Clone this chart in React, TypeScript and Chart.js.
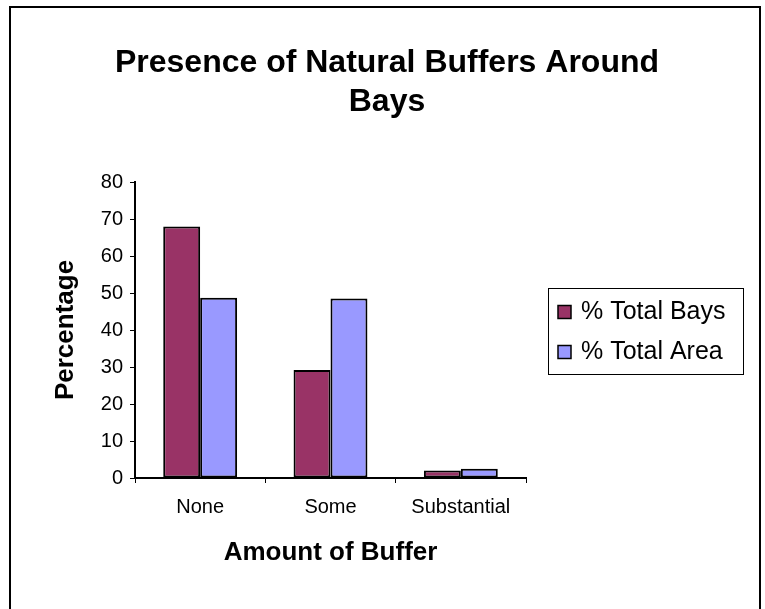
import React, { useEffect, useRef } from "react";
import { Chart, registerables } from "chart.js";

Chart.register(...registerables);

const categories = ["None", "Some", "Substantial"];
const totalBays = [68, 29.2, 2.0];
const totalArea = [48.7, 48.5, 2.5];
const seriesNames = ["% Total Bays", "% Total Area"];
const seriesColors = ["#993366", "#9999FF"];
const titleLines = ["Presence of Natural Buffers Around", "Bays"];
const xAxisTitle = "Amount of Buffer";
const yAxisTitle = "Percentage";
const yMin = 0;
const yMax = 80;
const yStep = 10;

const FONT = "'Liberation Sans', Arial, Helvetica, sans-serif";

const decorPlugin = {
  id: "decor",
  beforeDraw(chart: any) {
    const ctx = chart.ctx;
    ctx.save();
    ctx.fillStyle = "#ffffff";
    ctx.fillRect(0, 0, chart.width, chart.height);
    ctx.restore();
  },
  afterDraw(chart: any) {
    const ctx = chart.ctx;
    ctx.save();
    // outer frame
    ctx.strokeStyle = "#000";
    ctx.lineWidth = 2;
    ctx.strokeRect(10, 7, 750, 700);

    // title
    ctx.fillStyle = "#000";
    ctx.font = `bold 32px ${FONT}`;
    ctx.textAlign = "center";
    ctx.textBaseline = "alphabetic";
    ctx.fillText(titleLines[0], 387, 72);
    ctx.fillText(titleLines[1], 387, 111);

    // legend
    ctx.lineWidth = 1;
    ctx.strokeRect(548.5, 288.5, 195, 86);
    ctx.font = `25px ${FONT}`;
    ctx.textAlign = "left";
    const ds = chart.data.datasets;
    ds.forEach((d: any, i: number) => {
      const cy = 312 + i * 40;
      ctx.fillStyle = d.backgroundColor;
      ctx.fillRect(558, cy - 6.5, 13, 13);
      ctx.strokeStyle = "#000";
      ctx.lineWidth = 1.5;
      ctx.strokeRect(558, cy - 6.5, 13, 13);
      ctx.fillStyle = "#000";
      ctx.textBaseline = "alphabetic";
      ctx.fillText(d.label, 581, cy + 7);
    });
    ctx.restore();
  },
};

export default function App() {
  const ref = useRef<HTMLCanvasElement | null>(null);
  useEffect(() => {
    if (!ref.current) return;
    const chart = new Chart(ref.current, {
      type: "bar",
      data: {
        labels: categories,
        datasets: [
          {
            label: seriesNames[0],
            data: totalBays,
            backgroundColor: seriesColors[0],
            borderColor: "#000",
            borderWidth: 2,
            borderSkipped: false,
            barPercentage: 1,
            categoryPercentage: 0.567,
          },
          {
            label: seriesNames[1],
            data: totalArea,
            backgroundColor: seriesColors[1],
            borderColor: "#000",
            borderWidth: 2,
            borderSkipped: false,
            barPercentage: 1,
            categoryPercentage: 0.567,
          },
        ],
      },
      options: {
        responsive: false,
        animation: false,
        devicePixelRatio: 1,
        layout: { padding: { left: 0, top: 182, right: 239, bottom: 0 } },
        plugins: {
          legend: { display: false },
          title: { display: false },
          tooltip: { enabled: false },
        },
        scales: {
          x: {
            grid: {
              offset: true,
              drawOnChartArea: false,
              color: "#000",
              tickLength: 5,
              lineWidth: 1,
            },
            border: { color: "#000", width: 2 },
            ticks: { color: "#000", font: { family: FONT, size: 20 }, padding: 12 },
            title: {
              display: true,
              text: xAxisTitle,
              color: "#000",
              font: { family: FONT, size: 26, weight: "bold", lineHeight: 1 },
              padding: { top: 0, bottom: 43 },
            },
            afterFit: (s: any) => {
              s.height = 131;
            },
          },
          y: {
            min: yMin,
            max: yMax,
            ticks: {
              stepSize: yStep,
              color: "#000",
              font: { family: FONT, size: 20 },
              padding: 7,
            },
            grid: {
              drawOnChartArea: false,
              color: "#000",
              tickLength: 5,
              lineWidth: 1,
            },
            border: { color: "#000", width: 2 },
            title: {
              display: true,
              text: yAxisTitle,
              color: "#000",
              font: { family: FONT, size: 26, weight: "bold", lineHeight: 1 },
              padding: { top: 53, bottom: 0 },
            },
            afterFit: (s: any) => {
              s.width = 135;
            },
          },
        },
      },
      plugins: [decorPlugin],
    });
    return () => chart.destroy();
  }, []);
  return (
    <div style={{ position: "absolute", left: 0, top: 0, width: 765, height: 609 }}>
      <canvas ref={ref} width={765} height={609} />
    </div>
  );
}
